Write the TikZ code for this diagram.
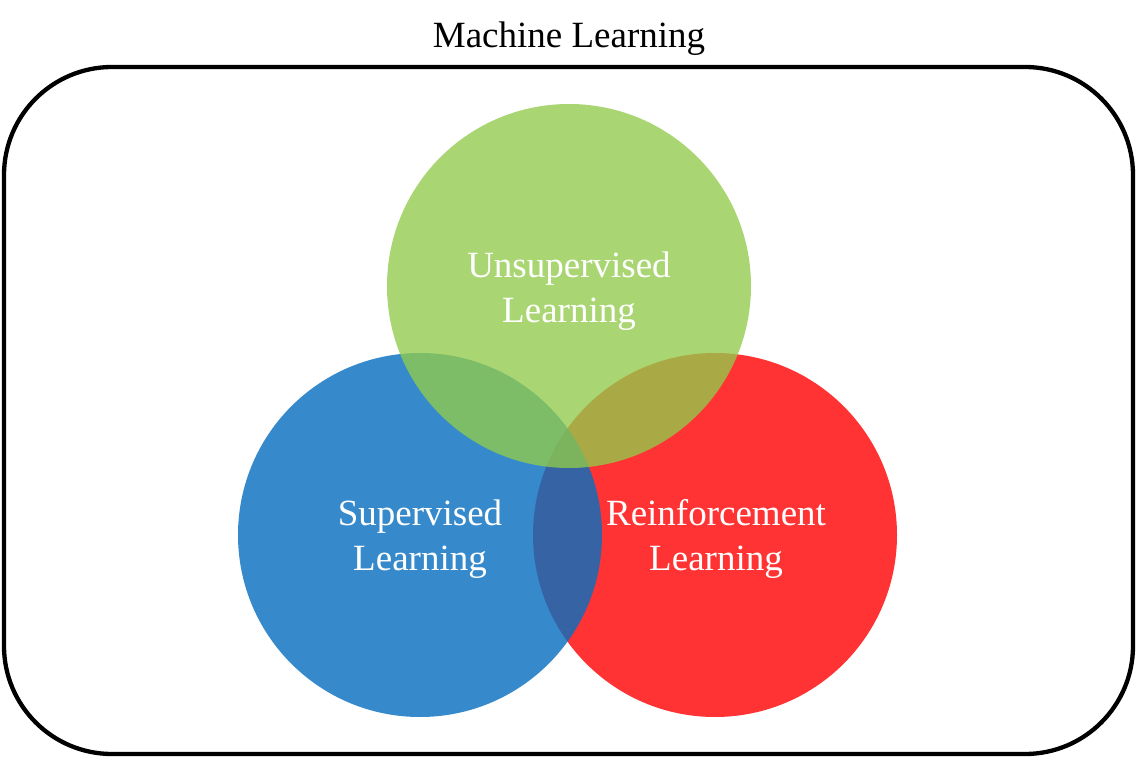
\documentclass[tikz,border=0pt]{standalone}
\usepackage{fontspec}
\setmainfont{Liberation Serif}
\begin{document}
\begin{tikzpicture}[x=1pt,y=-1pt,
  setcircle/.style={circle,minimum size=364pt,inner sep=0pt,draw=none},
  setlabel/.style={text=white,align=center,font=\fontsize{37}{44.5}\selectfont},
  frame/.style={draw=black,line width=4.3pt,rounded corners=108pt}]
\definecolor{redset}{HTML}{FF3333}
\definecolor{blueset}{HTML}{076FBF}
\definecolor{greenset}{HTML}{91CB4B}
\useasboundingbox (0,0) rectangle (1138,759);
% outer frame
\draw[frame] (4,67) rectangle (1133,754);
% title
\node[font=\fontsize{37}{44.5}\selectfont,anchor=base] (title) at (569,48) {Machine Learning};
% the three sets
\node[setcircle,fill=redset] (rl) at (715,535) {};
\node[setcircle,fill=blueset,fill opacity=0.81] (sl) at (420,535) {};
\node[setcircle,fill=greenset,fill opacity=0.78] (ul) at (569,286) {};
% labels
\node[setlabel] (ult) at (569,291) {Unsupervised\\Learning};
\node[setlabel] (slt) at (420,539) {Supervised\\Learning};
\node[setlabel] (rlt) at (716,539) {Reinforcement\\Learning};
\end{tikzpicture}
\end{document}
